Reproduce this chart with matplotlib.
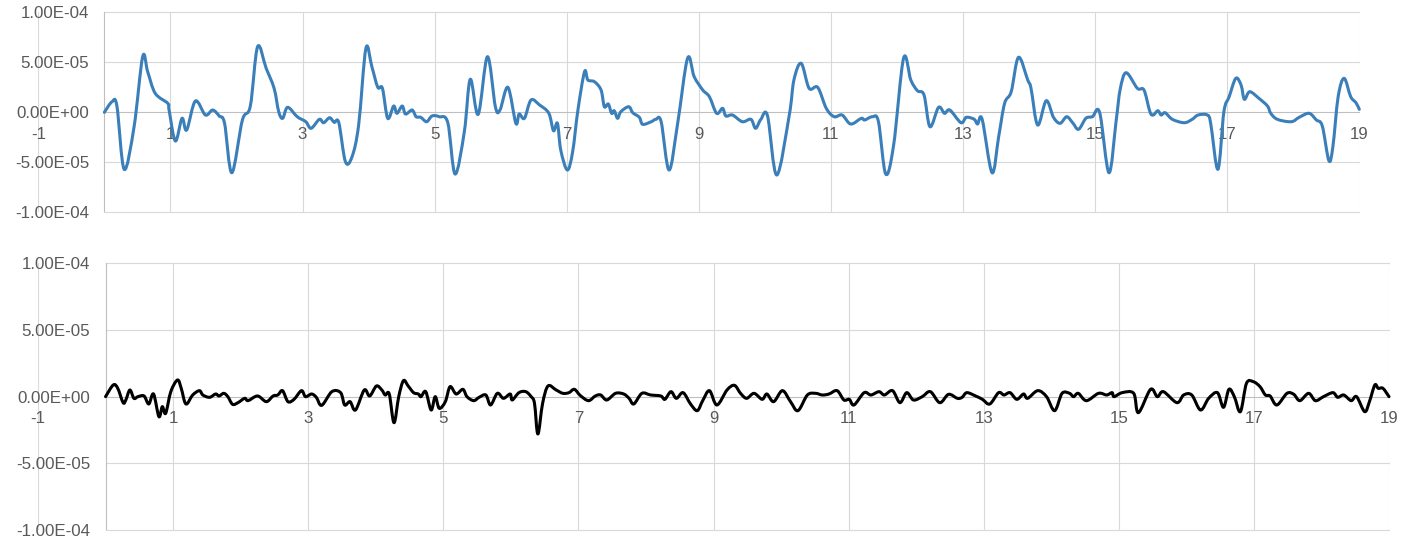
import matplotlib
matplotlib.use("Agg")
import matplotlib.pyplot as plt
from matplotlib.path import Path
from matplotlib.patches import PathPatch
import numpy as np

plt.rcParams['font.family'] = ['Liberation Sans', 'DejaVu Sans']

# == Data ==
# Top trace (time, value in units of 1e-5)

top_t = [0, 0.116, 0.19, 0.30, 0.45, 0.58, 0.656, 0.77, 0.96, 0.98, 1.075, 1.176, 1.246, 1.378, 1.53, 1.64,
         1.74, 1.82, 1.93, 2.09, 2.21, 2.32, 2.45, 2.57, 2.64, 2.70, 2.775, 2.92, 3.05, 3.13, 3.255, 3.32,
         3.41, 3.48, 3.55, 3.65, 3.75, 3.85, 3.96, 4.05, 4.14, 4.21, 4.29, 4.38, 4.43, 4.51, 4.56, 4.66,
         4.72, 4.79, 4.88, 4.96, 5.07, 5.20, 5.31, 5.45, 5.54, 5.66, 5.80, 5.92, 5.99, 6.11, 6.23, 6.28,
         6.36, 6.46, 6.59, 6.73, 6.80, 6.86, 6.91, 7.01, 7.09, 7.17, 7.27, 7.32, 7.42, 7.52, 7.57, 7.63,
         7.68, 7.72, 7.77, 7.82, 7.94, 8.0, 8.10, 8.15, 8.28, 8.35, 8.43, 8.55, 8.68, 8.83, 8.93, 9.06,
         9.16, 9.27, 9.36, 9.41, 9.51, 9.66, 9.79, 9.86, 9.94, 10.04, 10.18, 10.37, 10.44, 10.55, 10.67,
         10.80, 10.93, 11.05, 11.17, 11.30, 11.46, 11.51, 11.63, 11.72, 11.83, 11.95, 12.10, 12.21, 12.31,
         12.41, 12.50, 12.63, 12.72, 12.80, 12.97, 13.05, 13.17, 13.22, 13.29, 13.44, 13.54, 13.63, 13.73,
         13.84, 13.98, 14.03, 14.13, 14.26, 14.37, 14.47, 14.57, 14.66, 14.75, 14.86, 14.96, 15.07, 15.21,
         15.32, 15.38, 15.47, 15.64, 15.74, 15.83, 15.88, 15.95, 16.0, 16.06, 16.17, 16.35, 16.47, 16.56,
         16.70, 16.75, 16.86, 16.95, 17.03, 17.13, 17.21, 17.26, 17.34, 17.48, 17.61, 17.66, 17.76, 17.97,
         18.09, 18.24, 18.35, 18.44, 18.54, 18.60, 18.68, 18.77, 18.87, 18.95, 19.0]
top_v = [0, 1.06, 0.63, -5.7, -1.44, 5.56, 4.06, 1.9, 0.9, 0.23, -2.87, -0.6, -1.77, 1.13, -0.27, 0.23,
         -0.37, -1.1, -6.04, -0.77, 0.63, 6.56, 4.4, 2.4, 0.06, -0.6, 0.5, -0.44, -0.94, -1.6, -0.7, -1.04,
         -0.54, -1.0, -1.04, -4.94, -4.44, -1.27, 6.4, 4.56, 2.5, 2.4, -0.6, 0.63, -0.1, 0.63, -0.17, 0.23,
         -0.44, -0.5, -0.94, -0.37, -0.44, -1.04, -6.17, -1.94, 3.3, -0.2, 5.56, 0.56, 0.23, 2.5, -1.1, -0.17,
         -0.6, 1.23, 0.73, -0.1, -1.84, -1.1, -3.77, -5.77, -3.94, 0.23, 4.06, 3.23, 3.06, 2.23, 0.56, 0.83,
         -0.1, 0.16, -0.6, 0.06, 0.56, -0.04, -0.5, -1.2, -0.94, -0.7, -0.94, -5.77, -1.1, 5.4, 3.56, 2.23,
         1.56, -0.1, 0.4, -0.37, -0.27, -0.94, -0.7, -1.6, -0.7, -0.34, -6.27, -0.27, 3.23, 4.9, 2.4,
         2.5, 0.4, -0.44, -0.27, -1.17, -0.6, -0.77, -0.44, -0.94, -6.17, -3.27, 5.4, 3.23, 2.16,
         1.73, -1.44, 0.5, -0.1, 0.23, -1.04, -0.5, -0.7, -1.17, -0.7, -6.04, -2.44, 0.9, 2.06,
         5.5, 3.23, 2.4, -1.27, 1.16, -0.5, -1.1, -0.44, -1.04, -1.7, -0.6, -0.44, -0.04, -6.04,
         -0.77, 2.3, 3.96, 2.4, 2.23, 0.06, -0.27, 0.16, -0.27, -0.04, -0.7, -1.04, -0.7, -0.27,
         -0.27, -1.1, -5.7, 0.06, 1.56, 3.4, 2.73, 1.3, 2.06, 1.4, 0.63, -0.1, -0.7, -0.94,
         -0.5, -0.1, -0.77, -1.37, -4.84, -3.44, 1.56, 3.4, 1.56, 0.96, 0.3]

# Bottom trace (time, value in units of 1e-5)
bot_t = [0, 0.114, 0.18, 0.26, 0.30, 0.36, 0.42, 0.48, 0.57, 0.64, 0.71, 0.79, 0.84, 0.89, 0.966, 1.065,
         1.12, 1.19, 1.29, 1.39, 1.44, 1.54, 1.63, 1.68, 1.75, 1.81, 1.88, 1.96, 2.06, 2.11, 2.25, 2.38,
         2.48, 2.55, 2.62, 2.70, 2.79, 2.90, 2.96, 3.05, 3.12, 3.20, 3.35, 3.48, 3.54, 3.62, 3.70, 3.83,
         3.91, 4.01, 4.09, 4.14, 4.20, 4.27, 4.34, 4.41, 4.48, 4.56, 4.63, 4.67, 4.74, 4.82, 4.88, 4.94,
         5.03, 5.10, 5.19, 5.29,
         5.35, 5.45, 5.53, 5.63, 5.70, 5.80, 5.89, 5.99, 6.02, 6.12, 6.22, 6.30, 6.35, 6.40, 6.47, 6.55,
         6.67, 6.77, 6.86, 6.94, 7.03, 7.15, 7.25, 7.33, 7.42, 7.55, 7.67, 7.75, 7.82, 7.94, 8.07, 8.22,
         8.28, 8.37, 8.45, 8.55, 8.66, 8.76, 8.84, 8.94, 9.05, 9.20, 9.31, 9.40, 9.49, 9.60, 9.72, 9.79,
         9.89, 10.02, 10.14, 10.25, 10.39, 10.51, 10.61, 10.71, 10.83, 10.93, 11.01, 11.08, 11.23, 11.33,
         11.45, 11.53, 11.65, 11.76, 11.86, 11.96, 12.09, 12.21, 12.35,
         12.48, 12.61, 12.68, 12.75, 12.88, 12.98, 13.09, 13.22, 13.30, 13.39, 13.49, 13.59, 13.65, 13.80,
         13.93, 14.05, 14.16, 14.27, 14.33, 14.40, 14.52, 14.70, 14.82, 14.90, 14.93, 15.05, 15.22, 15.29,
         15.47, 15.57, 15.66, 15.86, 15.96, 16.08, 16.21, 16.33, 16.46, 16.55, 16.63, 16.71, 16.80, 16.89,
         16.99, 17.09, 17.17, 17.24, 17.34, 17.49, 17.59, 17.68, 17.81, 17.91, 18.03, 18.17, 18.24, 18.33,
         18.44, 18.52, 18.64, 18.71, 18.79, 18.84, 18.91, 19.0]
bot_v = [0, 0.875, 0.63, -0.45, -0.25, 0.5, -0.125, 0, 0.05, -0.55, 0.2, -1.5, -0.75, -1.25, 0.375, 1.25,
         0.63, -0.55, 0.125, 0.45, 0.125, -0.05, 0.2, 0.05, 0.25, 0, -0.575, -0.45, -0.125, -0.3, 0.05, -0.375,
         0.05, 0.125, 0.45, -0.375, -0.2, 0.45, 0, 0.2, -0.05, -0.65, 0.375, 0.3, -0.625, -0.375, -1.0, 0.5,
         0.05, 0.8, 0.5, 0.125, 0.2, -1.95, 0, 1.2, 0.8, 0.3, 0.2, 0, 0.375, -1.0, 0, -0.875,
         -0.375, 0.75, 0.2, 0.55,
         0, -0.3, -0.05, 0.125, -0.625, 0.25, -0.125, 0.2, -0.25, 0.3, 0.375, 0, -0.5, -2.8, -0.5, 0.8,
         0.5, 0.25, 0.3, 0.55, 0.075, -0.3, 0.05, 0.125, -0.25, 0.25, 0.2, -0.125, -0.55, 0.25, 0.125, 0.05,
         -0.2, 0.375, -0.125, 0.3, -0.55, -1.05, -0.3, 0.45, -0.625, 0.5, 0.85, 0.25, -0.125, 0.25, -0.2, 0.2,
         -0.375, 0.45, -0.375, -1.05, 0.125, 0.25, 0.125, 0.2, 0.45, -0.25, -0.2, -0.625, 0.3, 0.125,
         0.375, 0.125, 0.45, -0.45, 0.3, -0.25, 0, 0.375, -0.45,
         0.175, -0.125, -0.05, 0.3, 0.05, -0.2, -0.55, 0.3, 0.125, 0.3, -0.2, 0.2, -0.125, 0.45,
         0, -1.05, 0.25, 0.25, 0, 0.25, -0.3, 0.25, 0.125, 0.3, 0, 0.3, 0.25, -1.2,
         0.55, 0, 0.375, -0.45, 0.125, 0.125, -1.0, -0.125, 0.3, -0.8, 0.55, 0, -1.125, 1.0,
         1.125, 0.75, 0.125, 0.05, -0.625, 0.25, 0.175, -0.3, 0.25, -0.3, 0, 0.3, -0.05, 0.125,
         -0.3, 0, -1.125, -0.375, 0.875, 0.625, 0.625, 0]

assert len(top_t) == len(top_v), (len(top_t), len(top_v))
assert len(bot_t) == len(bot_v), (len(bot_t), len(bot_v))

x_ticks = [-1, 1, 3, 5, 7, 9, 11, 13, 15, 17, 19]
y_ticks = [-1e-4, -5e-5, 0, 5e-5, 1e-4]
y_labels = ["-1.00E-04", "-5.00E-05", "0.00E+00", "5.00E-05", "1.00E-04"]

GRID = "#d9d9d9"
AXIS = "#bfbfbf"
TEXT = "#595959"
FS = 12.2


# == smooth ==
# Excel-like smoothed line: bezier segments through the points (control points only)
def smooth_path(x, y):
    p = np.column_stack([x, y])
    n = len(p)
    verts = [p[0]]
    codes = [Path.MOVETO]
    for i in range(n - 1):
        prev = p[i - 1] if i > 0 else p[i]
        nxt = p[i + 2] if i + 2 < n else p[i + 1]
        verts += [p[i] + (p[i + 1] - prev) / 6, p[i + 1] - (nxt - p[i]) / 6, p[i + 1]]
        codes += [Path.CURVE4] * 3
    return Path(verts, codes)


def panel(fig, rect, t, v, color):
    ax = fig.add_axes(rect)
    ax.set_xlim(-1, 19)
    ax.set_ylim(-1e-4, 1e-4)
    for s in ax.spines.values():
        s.set_visible(False)
    ax.set_xticks([])
    ax.set_yticks([])
    # Excel style: grid from the y axis (x=0) rightwards, axes cross at zero
    for x in x_ticks:
        ax.axvline(x, color=GRID, lw=0.8, zorder=0)
    for y, lab in zip(y_ticks, y_labels):
        ax.plot([0, 19], [y, y], color=AXIS if y == 0 else GRID, lw=0.8, zorder=0, clip_on=False)
        ax.annotate(lab, (0, y), xytext=(-11, 0), textcoords="offset points",
                    ha="right", va="center_baseline", fontsize=FS, color=TEXT, annotation_clip=False)
    ax.plot([0, 0], [-1e-4, 1e-4], color=AXIS, lw=0.8, zorder=1)
    for x in x_ticks:
        ax.annotate(str(x), (x, 0), xytext=(0, -19.3), textcoords="offset points",
                    ha="center", va="baseline", fontsize=FS, color=TEXT, annotation_clip=False)
    path = smooth_path(t, np.array(v) * 1e-5)
    ax.add_patch(PathPatch(path, fill=False, edgecolor=color, lw=2.2, joinstyle="round",
                           capstyle="round", zorder=3, clip_on=False))
    return ax


fig = plt.figure(figsize=(14.16, 5.57), dpi=100)
panel(fig, [0.02705, 0.6188, 0.9329, 0.3591], top_t, top_v, "#3a7fba")
panel(fig, [0.02684, 0.04847, 0.9541, 0.4788], bot_t, bot_v, "black")
fig.savefig("out.png", dpi=100)
